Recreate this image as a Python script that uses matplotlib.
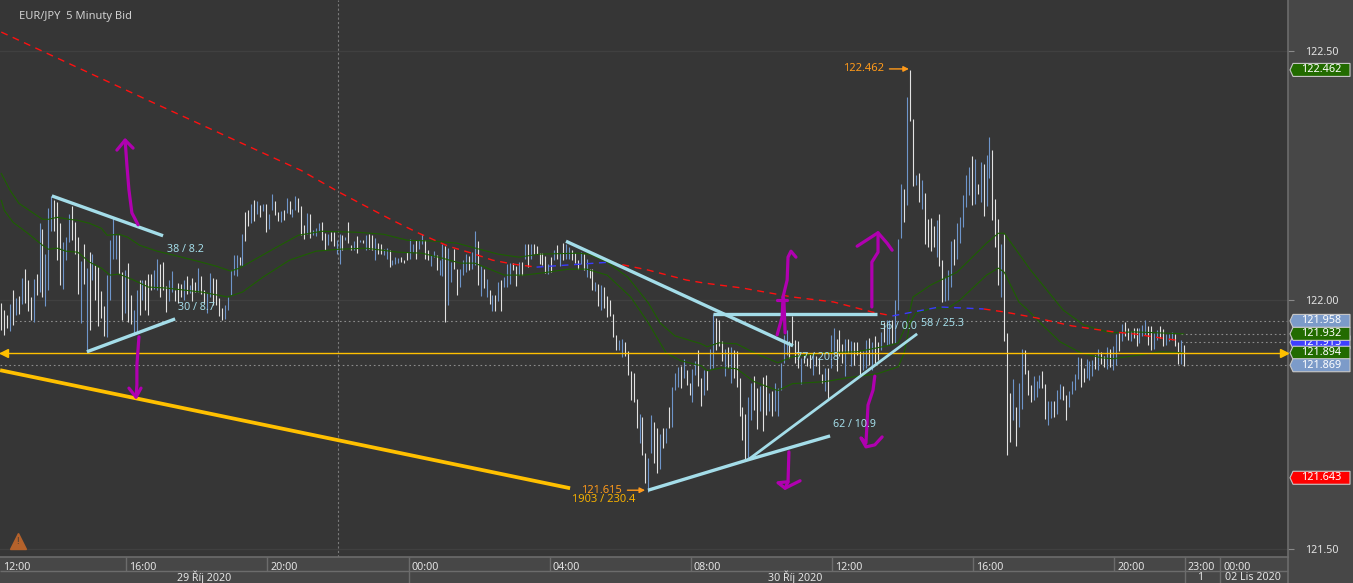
import numpy as np
import matplotlib
matplotlib.use("Agg")
import matplotlib.pyplot as plt
from matplotlib.patches import Polygon
from matplotlib.transforms import IdentityTransform, ScaledTranslation

plt.rcParams['font.family'] = ['Noto Sans', 'DejaVu Sans']

# 5 minute bars, first bar is number 5 (12:00 is bar 0)
first_bar = 5
highs = [
    121.993,121.979,121.97,121.992,122.02,122.003,122.008,122.045,122.063,122.04,
    122.005,122.043,122.053,122.155,122.143,122.092,122.185,122.208,122.201,122.197,
    122.155,122.117,122.127,122.172,122.188,122.157,122.127,122.079,122.112,122.065,
    122.097,122.092,122.07,122.067,122.018,121.987,122.05,122.12,122.165,122.13,
    122.13,122.057,122.06,122.075,122.01,121.98,122.02,122.041,122.041,122.04,
    122.053,122.052,122.061,122.083,122.072,122.077,122.028,122.04,122.059,122.021,
    122.035,122.032,122.041,122.048,122.03,122.045,122.037,122.065,122.048,122.02,
    122.015,122.055,122.045,122.042,122.003,121.983,121.989,122.005,122.061,122.09,
    122.09,122.087,122.132,122.176,122.18,122.193,122.2,122.199,122.19,122.193,
    122.193,122.173,122.212,122.198,122.177,122.179,122.181,122.205,122.198,122.182,
    122.208,122.205,122.188,122.15,122.175,122.173,122.141,122.145,122.155,122.156,
    122.135,122.133,122.137,122.137,122.12,122.133,122.131,122.127,122.156,122.111,
    122.119,122.128,122.121,122.12,122.131,122.132,122.131,122.125,122.115,122.113,
    122.103,122.105,122.1,122.081,122.087,122.085,122.087,122.081,122.097,122.122,
    122.113,122.121,122.121,122.132,122.12,122.101,122.09,122.099,122.09,122.081,
    122.113,122.108,122.105,122.077,122.103,122.063,122.062,122.08,122.093,122.089,
    122.097,122.138,122.118,122.068,122.063,122.043,122.021,122.01,122.011,122.037,
    122.04,122.047,122.073,122.075,122.075,122.068,122.077,122.077,122.113,122.113,
    122.113,122.113,122.108,122.095,122.095,122.088,122.073,122.087,122.101,122.11,
    122.095,122.115,122.112,122.107,122.1,122.095,122.08,122.097,122.092,122.083,
    122.063,122.063,122.037,122.033,122.03,122.027,122.008,121.999,121.972,121.93,
    121.92,121.922,121.915,121.897,121.858,121.853,121.801,121.772,121.765,121.692,
    121.682,121.77,121.755,121.743,121.73,121.742,121.742,121.785,121.825,121.853,
    121.865,121.867,121.881,121.86,121.833,121.861,121.877,121.899,121.843,121.859,
    121.86,121.901,121.972,121.963,121.959,121.917,121.901,121.905,121.905,121.9,
    121.897,121.843,121.785,121.772,121.805,121.833,121.847,121.823,121.828,121.845,
    121.85,121.813,121.817,121.833,121.823,121.873,121.93,121.94,121.917,121.968,
    121.919,121.917,121.883,121.89,121.883,121.893,121.89,121.887,121.883,121.852,
    121.863,121.863,121.93,121.943,121.921,121.939,121.912,121.921,121.921,121.917,
    121.915,121.915,121.897,121.897,121.92,121.923,121.915,121.927,121.915,121.935,
    121.955,121.96,121.96,121.96,122.0,122.123,122.232,122.223,122.408,122.462,
    122.363,122.25,122.255,122.24,122.215,122.162,122.165,122.149,122.16,122.172,
    122.08,122.047,122.06,122.118,122.123,122.155,122.167,122.21,122.25,122.267,
    122.29,122.283,122.233,122.277,122.273,122.292,122.328,122.301,122.203,122.163,
    122.113,122.132,121.933,121.813,121.842,121.785,121.833,121.902,121.9,121.86,
    121.83,121.848,121.837,121.85,121.858,121.832,121.798,121.798,121.798,121.82,
    121.832,121.828,121.81,121.818,121.838,121.852,121.886,121.883,121.863,121.882,
    121.877,121.88,121.89,121.902,121.895,121.887,121.905,121.902,121.907,121.932,
    121.933,121.952,121.956,121.943,121.937,121.943,121.943,121.943,121.95,121.96,
    121.947,121.948,121.933,121.94,121.947,121.942,121.931,121.932,121.935,121.932,
    121.915,121.919,121.91,
]
lows = [
    121.94,121.93,121.943,121.937,121.95,121.97,121.972,121.992,121.993,121.977,
    121.96,121.955,122.01,122.017,122.007,121.987,122.02,122.139,122.139,122.08,
    122.03,122.023,122.08,122.117,122.121,122.093,122.013,121.953,122.033,121.895,
    121.94,122.04,122.0,121.947,121.963,121.928,121.925,121.999,122.083,122.083,
    122.053,121.96,121.973,121.955,121.952,121.93,121.933,121.97,122.0,121.98,
    121.97,122.02,122.022,122.02,122.007,122.02,121.975,121.997,122.017,121.997,
    121.993,122.007,122.0,122.013,122.015,121.997,122.017,122.017,122.013,121.993,
    121.973,122.005,121.99,121.99,121.968,121.959,121.962,121.98,122.01,122.05,
    122.048,122.07,122.068,122.118,122.148,122.155,122.159,122.172,122.167,122.179,
    122.137,122.143,122.181,122.17,122.158,122.157,122.16,122.175,122.173,122.167,
    122.181,122.177,122.131,122.122,122.133,122.125,122.13,122.128,122.139,122.12,
    122.1,122.11,122.119,122.108,122.092,122.072,122.1,122.12,122.115,122.1,
    122.1,122.095,122.117,122.115,122.101,122.103,122.101,122.08,122.092,122.092,
    122.09,122.082,122.067,122.07,122.072,122.075,122.077,122.075,122.08,122.083,
    122.097,122.083,122.103,122.113,122.082,122.08,122.068,122.087,122.061,122.05,
    122.048,121.955,121.989,122.037,122.063,122.01,122.027,122.05,122.057,122.06,
    122.063,122.07,122.03,122.008,122.025,122.007,121.992,121.978,121.978,121.997,
    121.977,122.027,122.027,122.033,122.06,122.028,122.05,122.05,122.083,122.067,
    122.083,122.093,122.092,122.073,122.07,122.055,122.053,122.057,122.08,122.083,
    122.068,122.081,122.083,122.083,122.08,122.075,122.063,122.073,122.06,122.047,
    122.045,122.02,122.018,121.988,121.979,121.983,121.965,121.967,121.925,121.899,
    121.899,121.885,121.887,121.849,121.8,121.795,121.743,121.713,121.689,121.632,
    121.615,121.692,121.673,121.652,121.661,121.703,121.713,121.743,121.745,121.82,
    121.825,121.823,121.843,121.83,121.809,121.795,121.849,121.828,121.787,121.81,
    121.82,121.861,121.863,121.9,121.907,121.877,121.847,121.863,121.833,121.843,
    121.825,121.767,121.719,121.68,121.681,121.759,121.78,121.74,121.777,121.737,
    121.77,121.777,121.767,121.777,121.767,121.82,121.873,121.89,121.883,121.912,
    121.873,121.863,121.832,121.873,121.867,121.863,121.85,121.867,121.852,121.833,
    121.817,121.801,121.863,121.897,121.857,121.887,121.873,121.848,121.893,121.867,
    121.87,121.89,121.848,121.86,121.863,121.87,121.86,121.873,121.88,121.899,
    121.915,121.91,121.912,121.913,121.913,121.98,122.125,122.157,122.19,122.359,
    122.228,122.23,122.197,122.183,122.113,122.107,122.099,122.107,122.087,122.069,
    121.995,121.997,122.0,122.027,122.07,122.083,122.115,122.147,122.187,122.21,
    122.19,122.193,122.213,122.197,122.168,122.189,122.245,122.16,122.107,122.03,
    122.007,121.918,121.688,121.715,121.759,121.707,121.745,121.781,121.852,121.81,
    121.795,121.799,121.805,121.823,121.823,121.762,121.749,121.763,121.765,121.772,
    121.802,121.8,121.76,121.786,121.812,121.82,121.842,121.825,121.835,121.843,
    121.84,121.847,121.861,121.86,121.871,121.865,121.862,121.865,121.86,121.87,
    121.898,121.918,121.927,121.92,121.917,121.923,121.907,121.913,121.927,121.93,
    121.91,121.9,121.901,121.92,121.923,121.908,121.91,121.917,121.92,121.907,
    121.872,121.872,121.868,
]
# w = white bar, b = blue bar
bar_kinds = (
    "wwwbwbwbww" "wbwbwbbbww" "wbbbwwwbwb" "wbwwwwbbbb" "wwbwwbbwbw" "wwbbwwwbbw"
    "wwbwbwwbww" "bbwwwwbbbb" "bwbwwbwbwb" "wbbwwbwbwb" "bwwwbwbbbw" "wbwwbbwbww"
    "bwbwbwwbww" "bbwbbbwwwb" "bwbbwwbbwb" "bwbbwwbbbw" "bbwbwbwbwb" "wbbbwwbwbw"
    "bwwwwwbwbw" "bwbbwwwbwb" "wwbwbwwwww" "bbwwwwwbww" "bbwwbwbwbb" "bwbwwbbwwb"
    "wbbwwwbwbw" "wwwwbbwwbw" "wbwbbbbbww" "wwbwwwbwww" "bwbbwwwbwb" "wwwbbwbwwb"
    "wbbwbbbwbw" "wbwbwwwwbw" "wbbbwbbbbb" "wbwbwbbwww" "bwwwbwbbww" "wbbbwwbbwb"
    "bwwbbbbwwb" "bbwbwwbwbb" "wbwwbwwbbb" "wwbbwwbbbw" "wbw"
)

# moving averages, read at some bars
ma_upper_bars = [5,8,11,16,19,21,24,28,31,35,39,41,45,48,52,58,65,73,78,83,86,92,98,106,110,114,126,135,143,153,160,
                 165,174,181,188,201,205,211,218,225,229,234,243,245,249,255,261,269,274,285,296,308,310,313,315,321,
                 330,340,344,346,355,366,373,382,390,407]
ma_upper = [122.254,122.22,122.194,122.174,122.162,122.162,122.166,122.162,122.16,122.154,122.144,122.13,122.132,
            122.126,122.11,122.098,122.088,122.076,122.068,122.058,122.064,122.084,122.104,122.13,122.134,122.138,
            122.136,122.132,122.12,122.118,122.114,122.106,122.092,122.086,122.092,122.094,122.092,122.076,122.046,
            121.994,121.954,121.928,121.912,121.906,121.914,121.912,121.894,121.874,121.886,121.894,121.896,121.91,
            121.914,121.954,122.006,122.03,122.056,122.114,122.134,122.134,122.06,121.98,121.95,121.934,121.936,121.932]
ma_lower_bars = [5,6,9,14,19,21,24,27,31,35,39,42,45,50,55,61,73,82,87,94,103,112,120,129,140,148,155,161,166,176,183,
                 191,198,204,211,219,225,231,236,243,245,250,255,261,269,274,285,293,303,310,312,314,316,322,327,331,
                 340,344,346,351,354,359,365,372,379,383,390,399,407]
ma_lower = [122.2,122.18,122.156,122.134,122.11,122.102,122.104,122.098,122.096,122.076,122.064,122.05,122.052,122.04,
            122.026,122.024,122.016,122.006,122.016,122.046,122.08,122.098,122.102,122.104,122.096,122.094,122.084,
            122.074,122.074,122.05,122.05,122.056,122.062,122.062,122.05,122.006,121.954,121.894,121.878,121.868,
            121.858,121.864,121.862,121.836,121.818,121.832,121.836,121.844,121.852,121.866,121.894,121.954,121.974,
            121.984,121.984,122.0,122.05,122.064,122.056,121.996,121.98,121.95,121.916,121.894,121.884,121.882,121.888,
            121.896,121.894]

# long average, red while falling and blue while rising
red_parts = [
    ([5,56,107,120,129,138,147,157,165,172,179,187],
     [122.538,122.398,122.26,122.216,122.188,122.16,122.134,122.108,122.094,122.08,122.072,122.066]),
    ([212,225,238,244,257,274,288,301,308],
     [122.076,122.06,122.04,122.034,122.024,122.006,121.996,121.976,121.968]),
    ([339,346,357,369,383,390,399,406],
     [121.982,121.976,121.964,121.948,121.936,121.932,121.924,121.918]),
]
blue_parts = [
    ([187,212], [122.066,122.076]),
    ([308,324,339], [121.968,121.986,121.982]),
]

# drawn trend lines
light_lines = [
    ([22.2,60], [122.209,122.129], 2.4),
    ([34.1,64.1], [121.896,121.962], 2.4),
    ([197,274.2], [122.118,121.908], 2.4),
    ([247,302.8], [121.972,121.972], 2.4),
    ([224.9,258.9,286.8], [121.618,121.679,121.727], 2.4),
    ([258.9,316.4], [121.679,121.932], 2.0),
]
gold_line = ([4.6,198.4], [121.859,121.622])

# hand drawn arrows
magenta_lines = [
    ([51.5,49.4,48.4,47.7,47.1], [122.151,122.175,122.221,122.271,122.321]),
    ([44.3,47.1,49.8], [122.301,122.321,122.305]),
    ([51.8,51.1,51.1,50.8], [121.926,121.869,121.829,121.805]),
    ([48.4,50.8,52.5], [121.823,121.805,121.823]),
    ([268.8,270.5,270.8,272.2,272.5,273.5,275.2], [121.93,121.966,122.006,122.04,122.086,122.098,122.086]),
    ([271.5,271.1,270.8], [121.934,122.0,122.006]),
    ([268.8,272.2], [122.0,122.0]),
    ([301,301,303.1,303.1], [121.986,122.076,122.096,122.135]),
    ([296,303.1,306.2,307.9], [122.108,122.135,122.114,122.1]),
    ([302,301.4,299.7,299,297.3,299,302,304.5], [121.847,121.819,121.789,121.713,121.723,121.705,121.709,121.725]),
    ([272.8,272.5,269.1,271.5,276.6], [121.695,121.635,121.633,121.622,121.637]),
    ([271.5,272.5], [121.622,121.635]),
]

pattern_labels = ["38 / 8.2", "30 / 8.7", "77 / 20.8", "56 / 0.0", "58 / 25.3", "62 / 10.9"]
pattern_x = [61.3, 65.1, 275.2, 303.8, 317.7, 287.8]
pattern_y = [122.102, 121.984, 121.884, 121.946, 121.952, 121.749]

tick_bars = [4.7, 47.5, 95.5, 143.5, 191.5, 239.5, 287.5, 335.5, 383.5, 407.5, 419.5]
tick_labels = ["12:00", "16:00", "20:00", "00:00", "04:00", "08:00", "12:00", "16:00", "20:00", "23:00", "00:00"]
day_labels = ["29 Říj 2020", "30 Říj 2020", "1", "02 Lis 2020"]
day_centres = [73.9, 274.9, 412.6, 430.6]
day_edges = [143.5, 407.5, 419.5]
price_ticks = [121.5, 122.0, 122.5]

# price tags, drawn in this order
tag_prices = [122.462, 121.643, 121.958, 121.915, 121.932, 121.894, 121.869]
tag_colors = ["#226b00", "#ff0000", "#7c9bc9", "#3f3fff", "#226b00", "#226b00", "#7c9bc9"]

BG = "#363636"
STRIP = "#474747"
EDGE = "#6c6c6c"
TEXT = "#e4e4e4"
LIGHT = "#a4dde9"
GOLD = "#ffc000"
ORANGE = "#ff9a1a"
MAGENTA = "#b000b0"
GREEN = "#1c6000"

fig = plt.figure(figsize=(13.53, 5.83), dpi=100, facecolor=STRIP)
ax = fig.add_axes([0, 26/583, 1288/1353, 557/583], facecolor=BG)
ax.set_xlim(4.556, 442.5)
ax.set_ylim(121.4839, 122.6024)

for side in ["top", "left"]:
    ax.spines[side].set_visible(False)
for side in ["right", "bottom"]:
    ax.spines[side].set_color(EDGE)
    ax.spines[side].set_linewidth(1.2)

# price axis on the right
ax.yaxis.tick_right()
ax.set_yticks(price_ticks)
ax.set_yticklabels(["%.2f" % p for p in price_ticks])
ax.tick_params(axis="y", colors=TEXT, labelsize=7.7, length=4, width=0.8, pad=8, color="#8a8a8a")
ax.grid(axis="y", color="#404040", lw=0.9, zorder=0)

# time axis
ax.set_xticks(tick_bars)
ax.set_xticklabels(tick_labels)
ax.tick_params(axis="x", colors=TEXT, labelsize=7.7, length=0, pad=3.5)
label_shift = ScaledTranslation(2/72, 0, fig.dpi_scale_trans)
for lab in ax.get_xticklabels():
    lab.set_ha("left")
    lab.set_transform(lab.get_transform() + label_shift)

xt = ax.get_xaxis_transform()
row = 14/557
ax.vlines(tick_bars[1:], -row, 0, color=EDGE, lw=1, transform=xt, clip_on=False)
ax.vlines(day_edges, -26/557, -row, color=EDGE, lw=1, transform=xt, clip_on=False)
ax.vlines([442.5], -26/557, 0, color=EDGE, lw=1.2, transform=xt, clip_on=False)
ax.hlines([-row], 4.556, 442.5, color=EDGE, lw=1, transform=xt, clip_on=False)
for lab, c in zip(day_labels, day_centres):
    ax.text(c, -20/557, lab, color=TEXT, fontsize=7.7, ha="center", va="center", transform=xt)

# crosshair and level lines
ax.axvline(119.5, color="#7a7a7a", lw=0.8, ls=(0, (2, 2)), zorder=1)
ax.hlines(121.958, 9.5, 442.5, color="#8c8c8c", lw=0.8, ls=(0, (1.5, 2.5)), zorder=1)
ax.hlines(121.869, 4.556, 442.5, color="#8c8c8c", lw=0.8, ls=(0, (1.5, 2.5)), zorder=1)
ax.hlines([121.932, 121.915], 406, 442.5, color="#8c8c8c", lw=0.8, ls=(0, (1.5, 2.5)), zorder=1)

# bars
bars = np.arange(first_bar, first_bar + len(highs))
bar_colors = ["#e2e2e2" if k == "w" else "#6e95ca" for k in bar_kinds]
ax.vlines(bars, lows, highs, colors=bar_colors, lw=0.8, zorder=2)

ax.plot(ma_upper_bars, ma_upper, color=GREEN, lw=0.8, zorder=3)
ax.plot(ma_lower_bars, ma_lower, color=GREEN, lw=0.8, zorder=3)
for xs, ys in red_parts:
    ax.plot(xs, ys, color="#ff1010", lw=1.0, ls=(0, (5, 4)), zorder=3)
for xs, ys in blue_parts:
    ax.plot(xs, ys, color="#3a3aff", lw=1.0, ls=(0, (5, 4)), zorder=3)

# level line with its two arrows
ax.axhline(121.894, color=GOLD, lw=1.0, zorder=4)
ax.plot([6.0], [121.894], marker="<", ms=6, color=GOLD, zorder=4)
ax.plot([441.0], [121.894], marker=">", ms=6, color=GOLD, zorder=4)

ax.plot(gold_line[0], gold_line[1], color=GOLD, lw=2.7, solid_capstyle="butt", zorder=5)
for xs, ys, w in light_lines:
    ax.plot(xs, ys, color=LIGHT, lw=w, solid_capstyle="butt", zorder=5)
for xs, ys in magenta_lines:
    ax.plot(xs, ys, color=MAGENTA, lw=2.3, solid_capstyle="round", zorder=6)

for lab, x, y in zip(pattern_labels, pattern_x, pattern_y):
    ax.text(x, y, lab, color=LIGHT, fontsize=7.7, ha="left", va="center", zorder=7)

ax.annotate("122.462", xy=(313.6, 122.464), xytext=(305.1, 122.464), color=ORANGE, fontsize=8, ha="right", va="center",
            arrowprops=dict(arrowstyle="-|>", color=ORANGE, lw=1, shrinkA=2, shrinkB=0), zorder=7)
ax.annotate("121.615", xy=(223.9, 121.618), xytext=(216.0, 121.618), color=ORANGE, fontsize=8, ha="right", va="center",
            arrowprops=dict(arrowstyle="-|>", color=ORANGE, lw=1, shrinkA=2, shrinkB=0), zorder=7)
ax.text(209.9, 121.6, "1903 / 230.4", color="#f5b000", fontsize=8, ha="center", va="center", zorder=7)

ax.text(19/1288, 1 - 17/557, "EUR/JPY  5 Minuty Bid", color="#d0d0d0", fontsize=8, fontweight="bold",
        ha="left", va="center", transform=ax.transAxes)

# warning sign in the corner
ax.plot([18/1288], [1 - 541/557], marker="^", ms=11, color="#b5622b", transform=ax.transAxes, clip_on=False)
ax.text(18/1288, 1 - 542/557, "!", color=BG, fontsize=7, fontweight="bold", ha="center", va="center",
        transform=ax.transAxes)

# price tags on the right, in screen pixels
for z, (price, col) in enumerate(zip(tag_prices, tag_colors)):
    yc = ax.transData.transform((0, price))[1]
    pts = [(1290, yc), (1293, yc + 6.5), (1350, yc + 6.5), (1350, yc - 6.5), (1293, yc - 6.5)]
    fig.add_artist(Polygon(pts, closed=True, facecolor=col, edgecolor="#c8c8c8", lw=0.8,
                           transform=IdentityTransform(), zorder=10 + z * 2))
    fig.text(1321, yc, "%.3f" % price, color="white", fontsize=7.8, ha="center", va="center",
             transform=IdentityTransform(), zorder=11 + z * 2)

fig.savefig("out.png", dpi=100, facecolor=fig.get_facecolor())
